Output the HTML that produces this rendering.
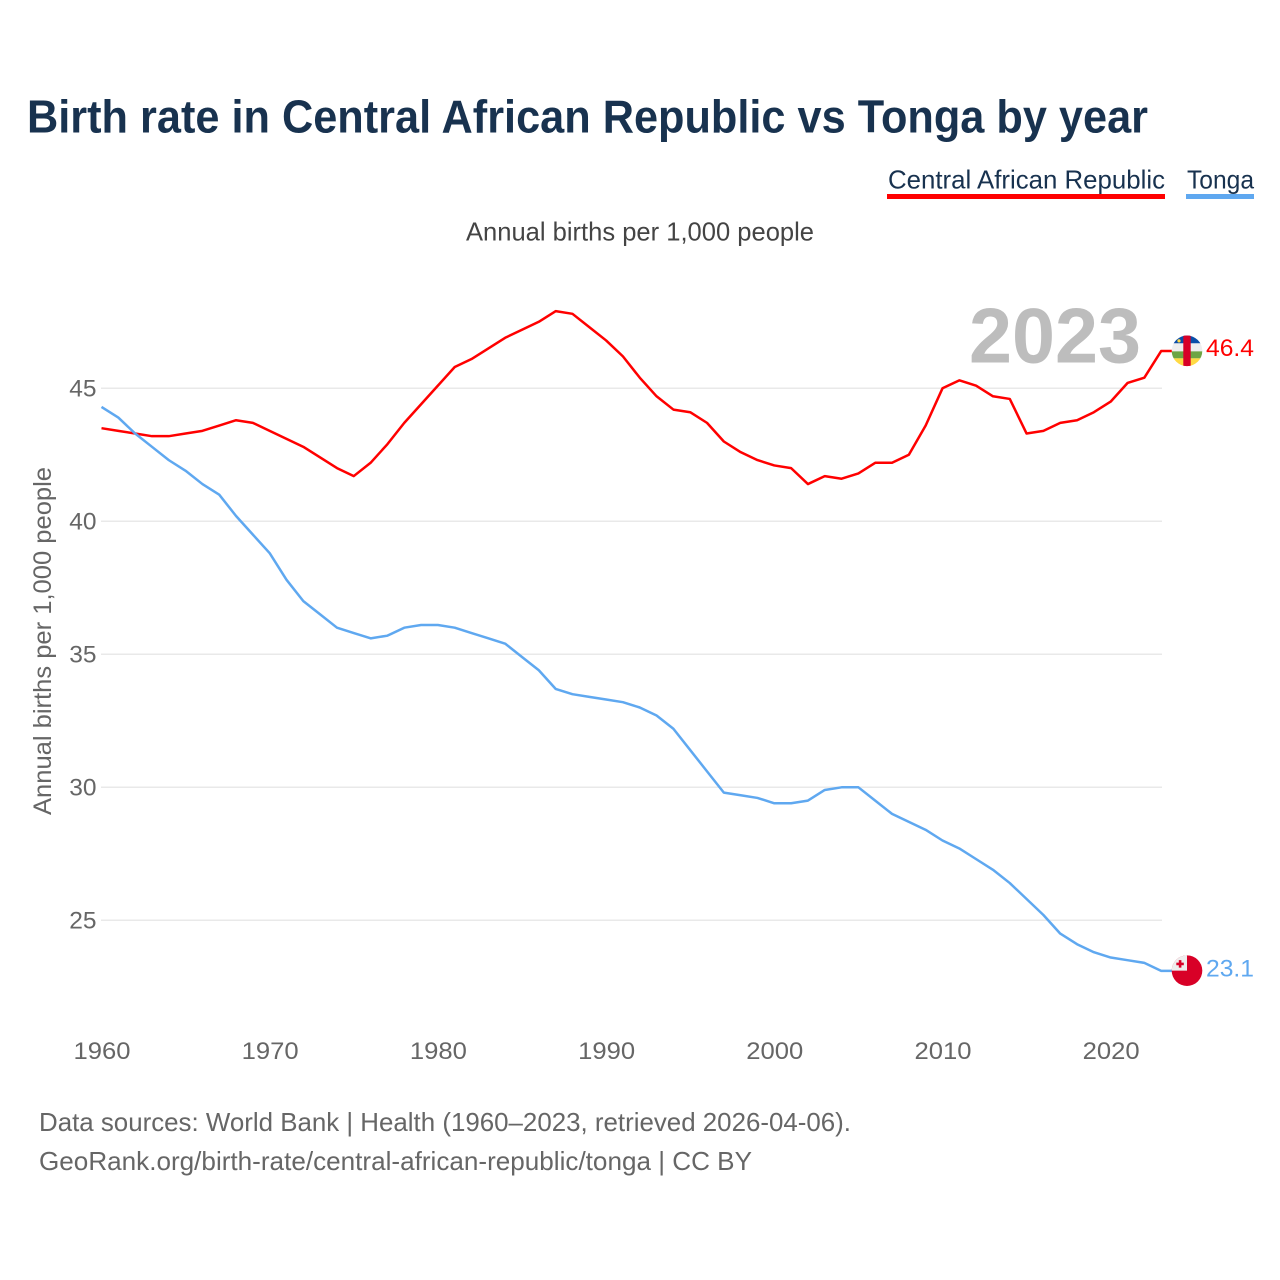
<!DOCTYPE html>
<html lang="en">
<head>
<meta charset="utf-8">
<title>Birth rate in Central African Republic vs Tonga by year</title>
<style>
html,body{margin:0;padding:0;background:#fff}
svg{display:block}
text{font-family:"Liberation Sans",sans-serif}
</style>
</head>
<body>
<svg id="chart" xmlns="http://www.w3.org/2000/svg" width="1280" height="1280" viewBox="0 0 1280 1280">
  <defs>
    <clipPath id="flag-clip"><circle cx="0" cy="0" r="15.3"></circle></clipPath>
  </defs>
  <rect width="1280" height="1280" fill="#fff"></rect>
  <text x="27" y="132.5" font-size="46" font-weight="700" fill="#18324f" textLength="1121" lengthAdjust="spacingAndGlyphs">Birth rate in Central African Republic vs Tonga by year</text>

  <g>
    <text x="888" y="188.5" font-size="26" fill="#18324f" textLength="277" lengthAdjust="spacingAndGlyphs">Central African Republic</text>
    <rect x="887" y="194" width="278" height="5" fill="#ff0000"></rect>
  </g>
  <g>
    <text x="1187" y="188.5" font-size="26" fill="#18324f" textLength="67" lengthAdjust="spacingAndGlyphs">Tonga</text>
    <rect x="1186" y="194" width="68" height="5" fill="#5fa8f0"></rect>
  </g>

  <text x="466" y="240.5" font-size="26" fill="#444" textLength="348" lengthAdjust="spacingAndGlyphs">Annual births per 1,000 people</text>
  <text transform="translate(51,815) rotate(-90)" x="0" y="0" font-size="25" fill="#666" textLength="348" lengthAdjust="spacingAndGlyphs">Annual births per 1,000 people</text>

  <g id="grid"></g>
  <g id="y-ticks"></g>
  <g id="x-ticks"></g>

  <text x="969" y="362.5" font-size="78" font-weight="700" fill="#bdbdbd" textLength="172" lengthAdjust="spacingAndGlyphs">2023</text>

  <g id="series"></g>
  <g id="end-markers"></g>

  <text x="39" y="1131" font-size="26" fill="#666" textLength="812" lengthAdjust="spacingAndGlyphs">Data sources: World Bank | Health (1960–2023, retrieved 2026-04-06).</text>
  <text x="39" y="1170" font-size="26" fill="#666" textLength="713" lengthAdjust="spacingAndGlyphs">GeoRank.org/birth-rate/central-african-republic/tonga | CC BY</text>
</svg>
<script>
const startYear = 1960;
const carValues = [43.5,43.4,43.3,43.2,43.2,43.3,43.4,43.6,43.8,43.7,43.4,43.1,42.8,42.4,42.0,41.7,42.2,42.9,43.7,44.4,45.1,45.8,46.1,46.5,46.9,47.2,47.5,47.9,47.8,47.3,46.8,46.2,45.4,44.7,44.2,44.1,43.7,43.0,42.6,42.3,42.1,42.0,41.4,41.7,41.6,41.8,42.2,42.2,42.5,43.6,45.0,45.3,45.1,44.7,44.6,43.3,43.4,43.7,43.8,44.1,44.5,45.2,45.4,46.4];
const tongaValues = [44.3,43.9,43.3,42.8,42.3,41.9,41.4,41.0,40.2,39.5,38.8,37.8,37.0,36.5,36.0,35.8,35.6,35.7,36.0,36.1,36.1,36.0,35.8,35.6,35.4,34.9,34.4,33.7,33.5,33.4,33.3,33.2,33.0,32.7,32.2,31.4,30.6,29.8,29.7,29.6,29.4,29.4,29.5,29.9,30.0,30.0,29.5,29.0,28.7,28.4,28.0,27.7,27.3,26.9,26.4,25.8,25.2,24.5,24.1,23.8,23.6,23.5,23.4,23.1];
const yTickValues = [25,30,35,40,45];
const xTickValues = [1960,1970,1980,1990,2000,2010,2020];
const carLabel = '46.4';
const tongaLabel = '23.1';

const NS = 'http://www.w3.org/2000/svg';
function xScale(year){ return 101.5 + (year - 1960) * 16.82; }
function yScale(v){ return 388.3 + (45 - v) * 26.6; }
function make(tag, attrs, parent){
  const el = document.createElementNS(NS, tag);
  for (const k in attrs) el.setAttribute(k, attrs[k]);
  parent.appendChild(el);
  return el;
}
const gridG = document.getElementById('grid');
const yG = document.getElementById('y-ticks');
const xG = document.getElementById('x-ticks');
const seriesG = document.getElementById('series');
const markerG = document.getElementById('end-markers');

yTickValues.forEach(function(v){
  const line = make('line', {x1:101, x2:1162, y1:yScale(v), y2:yScale(v), stroke:'#e9e9e9', 'stroke-width':1.5}, gridG);
  
  
  const t = make('text', {x:96.5, y:yScale(v)+8, 'text-anchor':'end', 'font-size':24.5, fill:'#666'}, yG);
  
  
  t.textContent = v;
});
xTickValues.forEach(function(y){
  const t = make('text', {x:xScale(y)+0.5, y:1059, 'text-anchor':'middle', 'font-size':24.5, fill:'#666', textLength:57, lengthAdjust:'spacingAndGlyphs'}, xG);
  
  
  t.textContent = y;
});

function drawSeries(values, color, name){
  const pts = values.map(function(v,i){ return xScale(startYear+i).toFixed(2)+','+yScale(v).toFixed(2); });
  const lastY = yScale(values[values.length-1]);
  pts.push('1172,'+lastY.toFixed(2));
  const p = make('polyline', {points:pts.join(' '), fill:'none', stroke:color, 'stroke-width':2.5, 'stroke-linejoin':'round'}, seriesG);
  
  
  return lastY;
}
const carY = drawSeries(carValues, '#ff0000', 'line-central-african-republic');
const tongaY = drawSeries(tongaValues, '#5fa8f0', 'line-tonga');

function flagGroup(y, name){
  const g = make('g', {transform:'translate(1187,'+(y-0.2).toFixed(2)+')', 'clip-path':'url(#flag-clip)'}, markerG);
  
  
  return g;
}
const carFlag = flagGroup(carY, 'flag-central-african-republic');
make('rect', {x:-16,y:-16,width:32,height:8.5,fill:'#0a4ea8'}, carFlag);
make('rect', {x:-16,y:-7.5,width:32,height:8,fill:'#eeeeee'}, carFlag);
make('rect', {x:-16,y:0.5,width:32,height:7,fill:'#6da544'}, carFlag);
make('rect', {x:-16,y:7.5,width:32,height:8.5,fill:'#ffda44'}, carFlag);
make('rect', {x:-3.7,y:-16,width:7.4,height:32,fill:'#d80027'}, carFlag);
make('circle', {cx:-8,cy:-10,r:1.6,fill:'#ffda44'}, carFlag);

const tongaFlag = flagGroup(tongaY, 'flag-tonga');
make('rect', {x:-16,y:-16,width:32,height:32,fill:'#d80027'}, tongaFlag);
make('rect', {x:-16,y:-16,width:16,height:16,fill:'#eeeeee'}, tongaFlag);
make('rect', {x:-8.2,y:-10.5,width:2.6,height:7.5,fill:'#d80027'}, tongaFlag);
make('rect', {x:-10.7,y:-8,width:7.5,height:2.6,fill:'#d80027'}, tongaFlag);

function valueLabel(y, offset, text, color, name){
  const t = make('text', {x:1206, y:y+offset, 'font-size':24.5, fill:color, textLength:48, lengthAdjust:'spacingAndGlyphs'}, markerG);
  
  
  t.textContent = text;
}
valueLabel(carY, 5, carLabel, '#ff0000', 'value-label-central-african-republic');
valueLabel(tongaY, 5.8, tongaLabel, '#5fa8f0', 'value-label-tonga');
</script>
</body>
</html>
